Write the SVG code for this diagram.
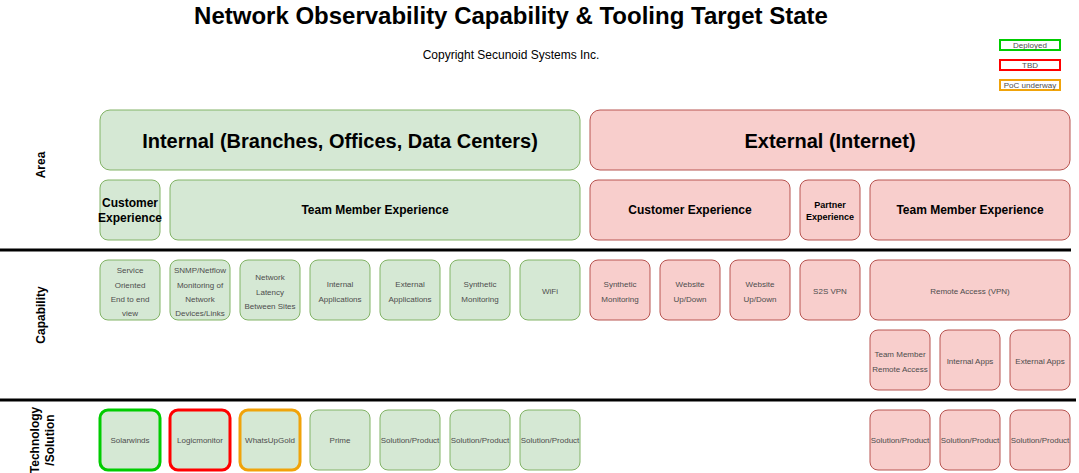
<svg xmlns="http://www.w3.org/2000/svg" width="1079" height="473" viewBox="0 0 1079 473">
  <style>
    text { font-family: "Liberation Sans", Arial, sans-serif; }
    .g { fill: #d5e8d4; stroke: #82b366; stroke-width: 1; }
    .r { fill: #f8cecc; stroke: #b85450; stroke-width: 1; }
    .ok { stroke: #00cc00; stroke-width: 3; }
    .tbd { stroke: #ff0000; stroke-width: 3; }
    .poc { stroke: #f0a30a; stroke-width: 3; }
    .head { font-size: 20px; font-weight: bold; fill: #000; text-anchor: middle; }
    .sub { font-size: 12px; font-weight: bold; fill: #000; text-anchor: middle; }
    .sub9 { font-size: 9px; font-weight: bold; fill: #000; text-anchor: middle; }
    .sm { font-size: 8px; fill: #4d4d4d; text-anchor: middle; }
    .lane { font-size: 12px; font-weight: bold; fill: #000; text-anchor: middle; }
    .sep { stroke: #000; stroke-width: 3; }
    .leg { fill: #fff; stroke-width: 2; }
    .legt { font-size: 8px; fill: #4d4d4d; text-anchor: middle; }
  </style>

  <rect width="1079" height="473" fill="#fff"/>

  <!-- title -->
  <text x="511" y="24" font-size="24" font-weight="bold" text-anchor="middle">Network Observability Capability &amp; Tooling Target State</text>
  <text x="511" y="59" font-size="12" text-anchor="middle">Copyright Secunoid Systems Inc.</text>

  <!-- legend -->
  <g id="legend">
    <rect class="leg" x="1000" y="40" width="60" height="10" stroke="#00cc00"/>
    <text class="legt" x="1030" y="48">Deployed</text>
    <rect class="leg" x="1000" y="60" width="60" height="10" stroke="#ff0000"/>
    <text class="legt" x="1030" y="68">TBD</text>
    <rect class="leg" x="1000" y="80" width="60" height="10" stroke="#f0a30a"/>
    <text class="legt" x="1030" y="88">PoC underway</text>
  </g>

  <!-- lane labels -->
  <g id="lanes">
    <text class="lane" transform="translate(45,165) rotate(-90)">Area</text>
    <text class="lane" transform="translate(45,315) rotate(-90)">Capability</text>
    <text class="lane" transform="translate(39,440) rotate(-90)">Technology</text>
    <text class="lane" transform="translate(54,440) rotate(-90)">/Solution</text>
  </g>

  <!-- lane separators -->
  <g id="connectors">
    <line class="sep" x1="0" y1="250" x2="1071" y2="250"/>
    <line class="sep" x1="0" y1="400" x2="1076" y2="400"/>
  </g>

  <!-- area: top level -->
  <g id="internal">
    <rect class="g" x="100" y="110" width="480" height="60" rx="10"/>
    <text class="head" x="340" y="148">Internal (Branches, Offices, Data Centers)</text>
  </g>
  <g id="external">
    <rect class="r" x="590" y="110" width="480" height="60" rx="10"/>
    <text class="head" x="830" y="148">External (Internet)</text>
  </g>

  <!-- area: experiences -->
  <g id="int-customer">
    <rect class="g" x="100" y="180" width="60" height="60" rx="8"/>
    <text class="sub" x="130" y="207">Customer</text>
    <text class="sub" x="130" y="222">Experience</text>
  </g>
  <g id="int-team">
    <rect class="g" x="170" y="180" width="410" height="60" rx="8"/>
    <text class="sub" x="375" y="214">Team Member Experience</text>
  </g>
  <g id="ext-customer">
    <rect class="r" x="590" y="180" width="200" height="60" rx="8"/>
    <text class="sub" x="690" y="214">Customer Experience</text>
  </g>
  <g id="ext-partner">
    <rect class="r" x="800" y="180" width="60" height="60" rx="8"/>
    <text class="sub9" x="830" y="208">Partner</text>
    <text class="sub9" x="830" y="220">Experience</text>
  </g>
  <g id="ext-team">
    <rect class="r" x="870" y="180" width="200" height="60" rx="8"/>
    <text class="sub" x="970" y="214">Team Member Experience</text>
  </g>

  <!-- capabilities -->
  <g id="cap-service">
    <rect class="g" x="100" y="260" width="60" height="60" rx="8"/>
    <text class="sm" x="130" y="273">Service</text>
    <text class="sm" x="130" y="287.5">Oriented</text>
    <text class="sm" x="130" y="302">End to end</text>
    <text class="sm" x="130" y="316">view</text>
  </g>
  <g id="cap-snmp">
    <rect class="g" x="170" y="260" width="60" height="60" rx="8"/>
    <text class="sm" x="200" y="273">SNMP/Netflow</text>
    <text class="sm" x="200" y="287.5">Monitoring of</text>
    <text class="sm" x="200" y="302">Network</text>
    <text class="sm" x="200" y="316">Devices/Links</text>
  </g>
  <g id="cap-latency">
    <rect class="g" x="240" y="260" width="60" height="60" rx="8"/>
    <text class="sm" x="270" y="280">Network</text>
    <text class="sm" x="270" y="294.5">Latency</text>
    <text class="sm" x="270" y="309">Between Sites</text>
  </g>
  <g id="cap-int-apps">
    <rect class="g" x="310" y="260" width="60" height="60" rx="8"/>
    <text class="sm" x="340" y="287">Internal</text>
    <text class="sm" x="340" y="302">Applications</text>
  </g>
  <g id="cap-ext-apps">
    <rect class="g" x="380" y="260" width="60" height="60" rx="8"/>
    <text class="sm" x="410" y="287">External</text>
    <text class="sm" x="410" y="302">Applications</text>
  </g>
  <g id="cap-synthetic">
    <rect class="g" x="450" y="260" width="60" height="60" rx="8"/>
    <text class="sm" x="480" y="287">Synthetic</text>
    <text class="sm" x="480" y="302">Monitoring</text>
  </g>
  <g id="cap-wifi">
    <rect class="g" x="520" y="260" width="60" height="60" rx="8"/>
    <text class="sm" x="550" y="294">WiFi</text>
  </g>
  <g id="cap-ext-synthetic">
    <rect class="r" x="590" y="260" width="60" height="60" rx="8"/>
    <text class="sm" x="620" y="287">Synthetic</text>
    <text class="sm" x="620" y="302">Monitoring</text>
  </g>
  <g id="cap-website-1">
    <rect class="r" x="660" y="260" width="60" height="60" rx="8"/>
    <text class="sm" x="690" y="287">Website</text>
    <text class="sm" x="690" y="302">Up/Down</text>
  </g>
  <g id="cap-website-2">
    <rect class="r" x="730" y="260" width="60" height="60" rx="8"/>
    <text class="sm" x="760" y="287">Website</text>
    <text class="sm" x="760" y="302">Up/Down</text>
  </g>
  <g id="cap-s2s">
    <rect class="r" x="800" y="260" width="60" height="60" rx="8"/>
    <text class="sm" x="830" y="294">S2S VPN</text>
  </g>
  <g id="cap-remote">
    <rect class="r" x="870" y="260" width="200" height="60" rx="8"/>
    <text class="sm" x="970" y="294">Remote Access (VPN)</text>
  </g>
  <g id="cap-tm-remote">
    <rect class="r" x="870" y="330" width="60" height="60" rx="8"/>
    <text class="sm" x="900" y="357">Team Member</text>
    <text class="sm" x="900" y="372">Remote Access</text>
  </g>
  <g id="cap-int-apps-ext">
    <rect class="r" x="940" y="330" width="60" height="60" rx="8"/>
    <text class="sm" x="970" y="364">Internal Apps</text>
  </g>
  <g id="cap-ext-apps-ext">
    <rect class="r" x="1010" y="330" width="60" height="60" rx="8"/>
    <text class="sm" x="1040" y="364">External Apps</text>
  </g>

  <!-- technology / solution -->
  <g id="tech-solarwinds">
    <rect class="g ok" x="100" y="410" width="60" height="60" rx="8"/>
    <text class="sm" x="130" y="443">Solarwinds</text>
  </g>
  <g id="tech-logicmonitor">
    <rect class="g tbd" x="170" y="410" width="60" height="60" rx="8"/>
    <text class="sm" x="200" y="443">Logicmonitor</text>
  </g>
  <g id="tech-whatsupgold">
    <rect class="g poc" x="240" y="410" width="60" height="60" rx="8"/>
    <text class="sm" x="270" y="443">WhatsUpGold</text>
  </g>
  <g id="tech-prime">
    <rect class="g" x="310" y="410" width="60" height="60" rx="8"/>
    <text class="sm" x="340" y="443">Prime</text>
  </g>
  <g id="tech-sol-1">
    <rect class="g" x="380" y="410" width="60" height="60" rx="8"/>
    <text class="sm" x="410" y="443">Solution/Product</text>
  </g>
  <g id="tech-sol-2">
    <rect class="g" x="450" y="410" width="60" height="60" rx="8"/>
    <text class="sm" x="480" y="443">Solution/Product</text>
  </g>
  <g id="tech-sol-3">
    <rect class="g" x="520" y="410" width="60" height="60" rx="8"/>
    <text class="sm" x="550" y="443">Solution/Product</text>
  </g>
  <g id="tech-sol-4">
    <rect class="r" x="870" y="410" width="60" height="60" rx="8"/>
    <text class="sm" x="900" y="443">Solution/Product</text>
  </g>
  <g id="tech-sol-5">
    <rect class="r" x="940" y="410" width="60" height="60" rx="8"/>
    <text class="sm" x="970" y="443">Solution/Product</text>
  </g>
  <g id="tech-sol-6">
    <rect class="r" x="1010" y="410" width="60" height="60" rx="8"/>
    <text class="sm" x="1040" y="443">Solution/Product</text>
  </g>
</svg>
